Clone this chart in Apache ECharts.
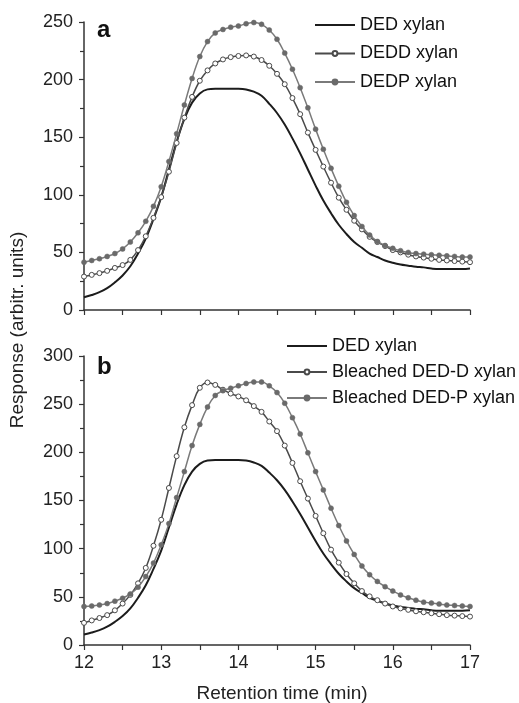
<!DOCTYPE html>
<html>
<head>
<meta charset="utf-8">
<script src="https://cdn.jsdelivr.net/npm/echarts@6/dist/echarts.min.js"></script>
<style>
  html, body { margin: 0; padding: 0; background: #fff; }
  #main { width: 519px; height: 703px; }
</style>
</head>
<body>
<div id="main"></div>
<script>
// retention time (min), sampled every 0.1 min
var times = [12.0, 12.1, 12.2, 12.3, 12.4, 12.5, 12.6, 12.7, 12.8, 12.9,
  13.0, 13.1, 13.2, 13.3, 13.4, 13.5, 13.6, 13.7, 13.8, 13.9,
  14.0, 14.1, 14.2, 14.3, 14.4, 14.5, 14.6, 14.7, 14.8, 14.9,
  15.0, 15.1, 15.2, 15.3, 15.4, 15.5, 15.6, 15.7, 15.8, 15.9,
  16.0, 16.1, 16.2, 16.3, 16.4, 16.5, 16.6, 16.7, 16.8, 16.9, 17.0];

// DED xylan (same curve in both panels)
var ded = [11, 13, 15.5, 19, 24, 30, 38, 49, 62, 79,
  98, 122, 146, 166, 180, 188, 191.5, 192, 192, 192,
  192, 191.5, 189.5, 186, 179, 171, 161, 149, 136, 122,
  108, 95, 84, 74, 66, 59, 54, 49, 46, 43,
  41, 39.5, 38.5, 37.5, 37, 36, 35.5, 35.5, 35.5, 35.5, 36];

// panel a
var dedd = [29, 30.5, 32, 34, 36.5, 39, 43.5, 52, 64, 80,
  98, 120, 145, 167, 185, 199, 208, 214, 217.5, 219.5,
  220.5, 221, 220, 217, 212, 205, 196, 184, 170, 154,
  139, 124.5, 110.5, 97.5, 87, 77.5, 70, 63.5, 59, 55.5,
  52, 50, 48, 46.5, 45.5, 44.5, 43.5, 43, 42.5, 42, 41.5];

var dedp = [41.5, 43, 44.5, 46.5, 49, 53, 59, 67, 77, 90,
  107, 129, 153, 178, 201, 220, 233, 240.5, 243.5, 245.5,
  246.5, 248.5, 249.5, 248, 243, 235, 223, 209, 193, 175.5,
  157, 139.5, 123, 107.5, 93.5, 82, 72.5, 65, 59.5, 56,
  53.5, 51.5, 50, 49, 48.5, 48, 47.5, 47, 46.5, 46, 46];

// panel b
var bleachedD = [23, 25.5, 28, 31, 36, 43, 52, 64, 80, 103,
  130, 163, 196, 226, 249, 267, 272.5, 270, 265, 261,
  258, 254, 248, 242, 232, 222, 207, 189, 170, 152,
  134, 116, 99, 85.5, 73.7, 64, 56, 50.5, 46.5, 43,
  40, 38, 36.5, 35, 34, 33, 32, 31, 30.5, 30, 29.5];

var bleachedP = [40, 40.5, 41.5, 43, 45.5, 48.5, 53, 60, 71, 85,
  104, 126, 153, 180, 207, 229, 247, 259, 264, 266.5,
  269, 271.5, 273, 273, 269, 262, 251, 236, 219, 199.5,
  180, 161, 142, 124, 108, 94, 82, 73, 66, 60.5,
  56, 52, 49, 46.5, 44.5, 43.5, 42.5, 41.5, 41, 40.5, 40];

var yMaxA = 250, yMaxB = 300;

function pairs(vals) {
  return times.map(function (t, i) { return [t, vals[i]]; });
}

var font = 'Liberation Sans, Arial, sans-serif';
var axisColor = '#333';

function xAxis(idx, showLabels) {
  return {
    type: 'value', gridIndex: idx, min: 12, max: 17, interval: 1,
    axisLine: { show: true, onZero: false, lineStyle: { color: axisColor, width: 1.5 } },
    axisTick: { show: true, length: 5, lineStyle: { color: axisColor, width: 1.2 } },
    minorTick: { show: true, splitNumber: 2, length: 5, lineStyle: { color: axisColor, width: 1.2 } },
    axisLabel: { show: showLabels, fontSize: 18, color: '#222', fontFamily: font, margin: 9 },
    splitLine: { show: false }
  };
}

function yAxis(idx, max) {
  return {
    type: 'value', gridIndex: idx, min: 0, max: max, interval: 50,
    axisLine: { show: true, lineStyle: { color: axisColor, width: 1.5 } },
    axisTick: { show: true, length: 5, lineStyle: { color: axisColor, width: 1.2 } },
    minorTick: { show: true, splitNumber: 2, length: 4, lineStyle: { color: axisColor, width: 1.2 } },
    axisLabel: { fontSize: 18, color: '#222', fontFamily: font, margin: 11 },
    splitLine: { show: false }
  };
}

function plain(name, idx, vals) {
  return {
    name: name, type: 'line', xAxisIndex: idx, yAxisIndex: idx,
    data: pairs(vals), smooth: 0.4, symbol: 'none',
    lineStyle: { color: '#1c1c1c', width: 2 }, itemStyle: { color: '#1c1c1c' },
    z: 3
  };
}

function openDots(name, idx, vals) {
  return {
    name: name, type: 'line', xAxisIndex: idx, yAxisIndex: idx,
    data: pairs(vals), smooth: 0.4, symbol: 'circle', symbolSize: 5, showAllSymbol: true,
    lineStyle: { color: '#4a4a4a', width: 1.5 },
    itemStyle: { color: '#fff', borderColor: '#4a4a4a', borderWidth: 1 },
    z: 4
  };
}

function filledDots(name, idx, vals) {
  return {
    name: name, type: 'line', xAxisIndex: idx, yAxisIndex: idx,
    data: pairs(vals), smooth: 0.4, symbol: 'circle', symbolSize: 5, showAllSymbol: true,
    lineStyle: { color: '#7a7a7a', width: 1.5 },
    itemStyle: { color: '#6a6a6a', borderColor: '#6a6a6a', borderWidth: 0.5 },
    z: 5
  };
}

var legendText = { fontSize: 18, color: '#111', fontFamily: font, lineHeight: 18 };
var noDot = { opacity: 0 };

var chart = echarts.init(document.getElementById('main'));
chart.setOption({
  animation: false,
  backgroundColor: '#fff',
  grid: [
    { left: 84, top: 22, width: 386, height: 288 },
    { left: 84, top: 356, width: 386, height: 289 }
  ],
  xAxis: [xAxis(0, false), xAxis(1, true)],
  yAxis: [yAxis(0, yMaxA), yAxis(1, yMaxB)],
  legend: [
    {
      orient: 'vertical', left: 314, top: 16, padding: 0, itemWidth: 40, itemHeight: 6, itemGap: 10.5,
      textStyle: legendText,
      data: [{ name: 'DED xylan', itemStyle: noDot }, 'DEDD xylan', 'DEDP xylan']
    },
    {
      orient: 'vertical', left: 286, top: 337, padding: 0, itemWidth: 40, itemHeight: 6, itemGap: 8,
      textStyle: legendText,
      data: [{ name: 'DED xylan', itemStyle: noDot }, 'Bleached DED-D xylan', 'Bleached DED-P xylan']
    }
  ],
  graphic: [
    { type: 'text', left: 97, top: 18,
      style: { text: 'a', fontSize: 24, fontWeight: 'bold', fontFamily: font, fill: '#111' } },
    { type: 'text', left: 97, top: 355,
      style: { text: 'b', fontSize: 24, fontWeight: 'bold', fontFamily: font, fill: '#111' } },
    { type: 'text', x: 18, y: 330, rotation: Math.PI / 2,
      style: { text: 'Response (arbitr. units)', fontSize: 19, fontFamily: font, fill: '#222',
               align: 'center', verticalAlign: 'middle' } },
    { type: 'text', x: 282, y: 694,
      style: { text: 'Retention time (min)', fontSize: 19, fontFamily: font, fill: '#222',
               align: 'center', verticalAlign: 'middle' } }
  ],
  series: [
    plain('DED xylan', 0, ded),
    openDots('DEDD xylan', 0, dedd),
    filledDots('DEDP xylan', 0, dedp),
    plain('DED xylan', 1, ded),
    openDots('Bleached DED-D xylan', 1, bleachedD),
    filledDots('Bleached DED-P xylan', 1, bleachedP)
  ]
});
</script>
</body>
</html>
